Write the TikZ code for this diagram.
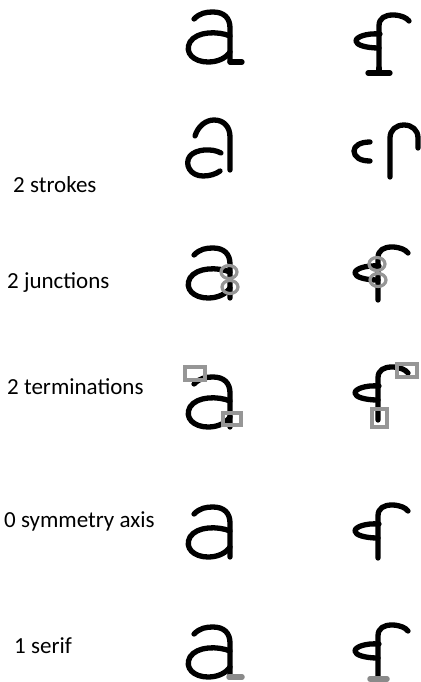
\documentclass[tikz,border=0pt]{standalone}
\usepackage{fontspec}
\setmainfont{Carlito}
\definecolor{markgray}{HTML}{969696}
\definecolor{bargray}{HTML}{8A8A8A}
\tikzset{
  ink/.style={line width=5.3bp, line cap=round, line join=round, draw=black},
  markline/.style={line width=3.2bp, draw=markgray},
  serifbar/.style={line width=5.5bp, draw=bargray, line cap=round},
  lbl/.style={anchor=base west, inner sep=0pt, font=\fontsize{23bp}{27bp}\selectfont},
  archstem/.pic={\draw[ink] (-36,-43) .. controls (-30,-49) and (-24,-50) .. (-17,-50) .. controls (-6,-50) and (0,-44) .. (0,-34) -- (0,0);},
  bowl/.pic={\draw[ink] (0,-26) .. controls (-12,-31) and (-33,-31) .. (-40,-20) .. controls (-46,-9) and (-36,0) .. (-22,0) .. controls (-12,0) and (-4,-4) .. (0,-10);},
  glyphf/.pic={\draw[ink] (0,0) -- (0,-42) .. controls (0,-50) and (6,-53) .. (14,-53) .. controls (22,-53) and (28,-50) .. (30,-47);
               \draw[ink] (1,-34) .. controls (-13,-35) and (-23,-31) .. (-23,-27) .. controls (-23,-23) and (-13,-20) .. (0,-20);},
}
\begin{document}
\begin{tikzpicture}[x=1bp,y=-1bp]
\useasboundingbox (0,0) rectangle (420,682);
% labels
\node[lbl] (l2) at (13,192) {2 strokes};
\node[lbl] (l3) at (7,288) {2 junctions};
\node[lbl] (l4) at (7,394) {2 terminations};
\node[lbl] (l5) at (4,527) {0 symmetry axis};
\node[lbl] (l6) at (14,653) {1 serif};

% row 1
\pic at (230,62) {archstem};
\pic at (230,62) {bowl};
\draw[ink] (230,62) -- (242,62);
\pic at (379,68) {glyphf};
\draw[ink] (379,68) -- (379,73);
\draw[ink] (368,73) -- (390,73);

% row 2 : strokes
\draw[ink] (195,136) .. controls (198,126) and (206,120) .. (214,120) .. controls (224,120) and (230,127) .. (230,137) -- (230,170);
\draw[ink] (221,153) .. controls (212,148) and (196,149) .. (190,156) .. controls (184,164) and (190,176) .. (203,176) .. controls (210,176) and (216,174) .. (220,171);
\draw[ink] (370,142) .. controls (360,142) and (354,146) .. (354,151) .. controls (354,157) and (360,161) .. (370,161);
\draw[ink] (390,177) -- (390,138) .. controls (390,130) and (396,125) .. (404,125) .. controls (412,125) and (418,130) .. (418,138) -- (418,148);

% row 3 : junctions
\pic at (230,298) {archstem};
\pic at (230,298) {bowl};
\draw[markline] (229,272) ellipse [x radius=8, y radius=6.5];
\draw[markline] (230,287) ellipse [x radius=8, y radius=6.5];
\pic at (378,300) {glyphf};
\draw[markline] (377,264) ellipse [x radius=8, y radius=6.5];
\draw[markline] (378,280) ellipse [x radius=8, y radius=6.5];

% row 4 : terminations
\pic at (230,427) {archstem};
\pic at (230,427) {bowl};
\draw[markline] (185,367) rectangle (205,380);
\draw[markline] (223,413) rectangle (241,425);
\pic at (378,420) {glyphf};
\draw[markline] (397,364) rectangle (417,377);
\draw[markline] (372,409) rectangle (387,427);

% row 5 : symmetry
\pic at (230,557) {archstem};
\pic at (230,557) {bowl};
\pic at (378,558) {glyphf};

% row 6 : serif
\pic at (230,677) {archstem};
\pic at (230,677) {bowl};
\draw[serifbar] (229,677) -- (242,677);
\pic at (378,678) {glyphf};
\draw[serifbar] (370,679) -- (387,679);
\end{tikzpicture}
\end{document}
